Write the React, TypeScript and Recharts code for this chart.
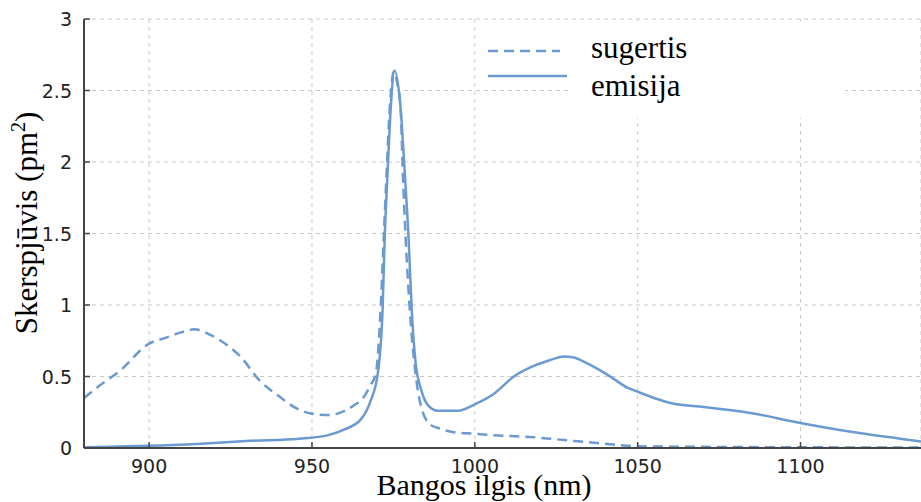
import React from 'react'
import { LineChart, Line, XAxis, YAxis, CartesianGrid, Label } from 'recharts'

const xTicks = [900, 950, 1000, 1050, 1100]
const yTicks = [0, 0.5, 1, 1.5, 2, 2.5, 3]

// sugertis (absorption), dashed
const sugertisWl = [880, 885, 891, 900, 905, 910, 914, 918, 922, 928, 934, 940, 945, 950, 955, 960, 963, 966, 968, 969.6, 971.1, 972, 972.9, 973.9, 975.1, 976.2, 977.2, 977.9, 978.8, 980, 981.8, 983.5, 986.5, 988.7, 993.6, 999.7, 1009, 1017, 1024, 1032.6, 1039.7, 1050, 1069, 1100, 1137]
const sugertisVal = [0.35, 0.44, 0.54, 0.73, 0.77, 0.81, 0.83, 0.8, 0.75, 0.64, 0.47, 0.36, 0.28, 0.24, 0.23, 0.26, 0.3, 0.36, 0.44, 0.52, 0.98, 1.45, 1.92, 2.38, 2.63, 2.55, 2.38, 1.92, 1.45, 0.98, 0.52, 0.29, 0.16, 0.14, 0.11, 0.1, 0.085, 0.077, 0.063, 0.045, 0.03, 0.012, 0.008, 0.005, 0.003]

// emisija (emission), solid
const emisijaWl = [880, 890, 900, 916, 931, 946, 955, 960, 965, 968, 970.2, 971.7, 972.3, 973.2, 974.2, 975.3, 977.2, 978.5, 979.7, 980.6, 981.8, 983.5, 985.6, 988.7, 994.8, 1000.4, 1005.9, 1012, 1017.2, 1022.5, 1027.4, 1030.1, 1034.7, 1040.9, 1047, 1050.4, 1055, 1061.1, 1069, 1084.6, 1100, 1115, 1130.6, 1137]
const emisijaVal = [0.005, 0.01, 0.015, 0.03, 0.05, 0.065, 0.09, 0.13, 0.2, 0.33, 0.52, 0.98, 1.45, 1.92, 2.38, 2.64, 2.38, 1.92, 1.45, 0.98, 0.6, 0.41, 0.3, 0.26, 0.26, 0.31, 0.38, 0.5, 0.565, 0.61, 0.64, 0.635, 0.59, 0.51, 0.42, 0.39, 0.35, 0.31, 0.29, 0.245, 0.175, 0.115, 0.065, 0.045]

const sugertisData = sugertisWl.map((wl, i) => ({ wl, v: sugertisVal[i] }))
const emisijaData = emisijaWl.map((wl, i) => ({ wl, v: emisijaVal[i] }))

const lineColor = '#6a9ad0'
const axisColor = '#444'
const tickFont = '"DejaVu Sans", Verdana, sans-serif'
const titleFont = '"Liberation Serif", "Times New Roman", serif'

function BottomTick(props: any) {
  const { x, y, payload } = props
  return <g>
    <line x1={x} x2={x} y1={y} y2={y - 6} stroke={axisColor} strokeWidth={1.5} />
    <text x={x} y={y + 25} textAnchor="middle" fontFamily={tickFont} fontSize={19} fill="#222">{payload.value}</text>
  </g>
}

function TopTick(props: any) {
  const { x, y } = props
  return <line x1={x} x2={x} y1={y} y2={y + 6} stroke={axisColor} strokeWidth={1.5} />
}

function LeftTick(props: any) {
  const { x, y, payload } = props
  return <g>
    <line x1={x} x2={x + 6} y1={y} y2={y} stroke={axisColor} strokeWidth={1.5} />
    <text x={x - 12} y={y + 7} textAnchor="end" fontFamily={tickFont} fontSize={19} fill="#222">{payload.value}</text>
  </g>
}

export default function App() {
  return <div style={{ position: 'absolute', left: 0, top: 0, width: 921, height: 502, background: '#fff' }}>
    <LineChart width={921} height={502} margin={{ top: 19, right: 0, bottom: 0, left: 0 }}>
      <CartesianGrid stroke="#c8c8c8" strokeDasharray="4 4" />
      <XAxis xAxisId="top" orientation="top" type="number" dataKey="wl" domain={[880, 1137]} ticks={xTicks}
        allowDataOverflow height={0} tickSize={0} tickMargin={0} tick={<TopTick />}
        axisLine={{ stroke: axisColor, strokeWidth: 2 }} tickLine={false} />
      <XAxis type="number" dataKey="wl" domain={[880, 1137]} ticks={xTicks} allowDataOverflow height={54}
        tickSize={0} tickMargin={0} tick={<BottomTick />} tickLine={false}
        axisLine={{ stroke: axisColor, strokeWidth: 2 }}>
        <Label content={() => <text x={484} y={495} textAnchor="middle" fontFamily={titleFont} fontSize={30} fill="#000">Bangos ilgis (nm)</text>} />
      </XAxis>
      <YAxis type="number" domain={[0, 3]} ticks={yTicks} width={84} tickSize={0} tickMargin={0}
        tick={<LeftTick />} tickLine={false} axisLine={{ stroke: axisColor, strokeWidth: 2 }} allowDataOverflow>
        <Label content={() => <text transform="translate(37,223) rotate(-90)" textAnchor="middle" fontFamily={titleFont} fontSize={31} fill="#000">
          Skerspjūvis (pm<tspan fontSize={20} dy={-12}>2</tspan><tspan dy={12}>)</tspan>
        </text>} />
      </YAxis>
      <Line data={sugertisData} dataKey="v" type="monotone" stroke={lineColor} strokeWidth={2.5}
        strokeDasharray="10 6" dot={false} isAnimationActive={false} />
      <Line data={emisijaData} dataKey="v" type="monotone" stroke={lineColor} strokeWidth={2.5}
        dot={false} isAnimationActive={false} />
    </LineChart>
    <div style={{ position: 'absolute', left: 480, top: 20, width: 365, height: 98 }}>
      <svg width={365} height={98}>
        <rect x={90} y={1} width={275} height={97} fill="#fff" />
        <line x1={8} x2={80} y1={31} y2={31} stroke={lineColor} strokeWidth={2.5} strokeDasharray="10 6" />
        <line x1={8} x2={87} y1={56} y2={56} stroke={lineColor} strokeWidth={2.5} />
        <text x={111} y={38} fontFamily={titleFont} fontSize={31} fill="#000">sugertis</text>
        <text x={111} y={76} fontFamily={titleFont} fontSize={31} fill="#000">emisija</text>
      </svg>
    </div>
  </div>
}
